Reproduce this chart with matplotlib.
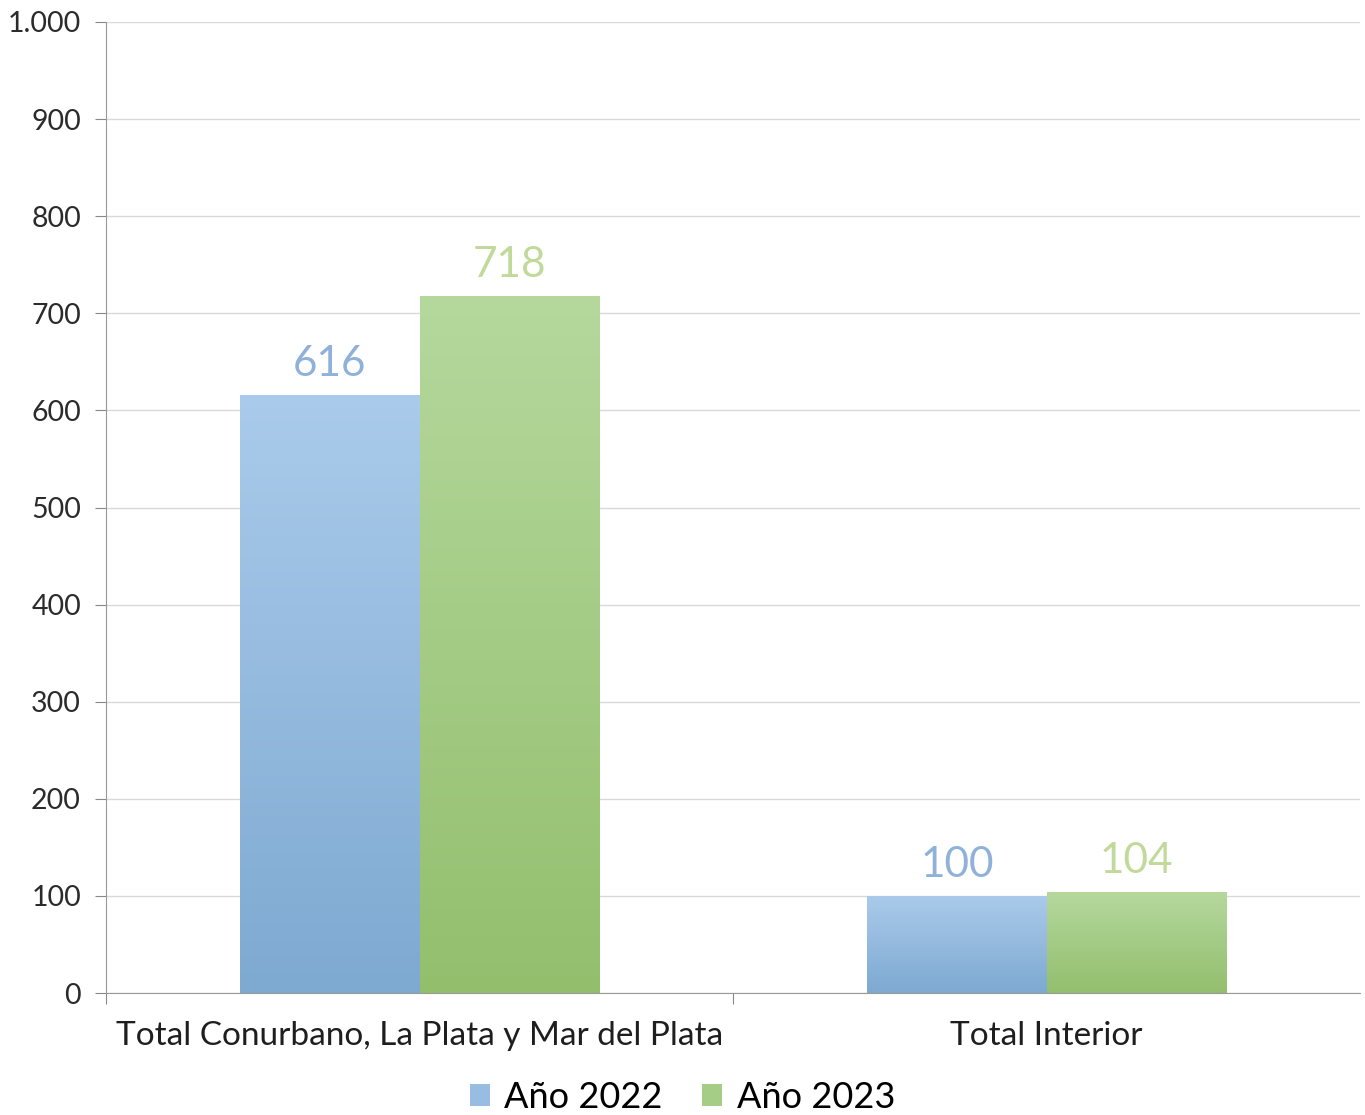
import numpy as np
import matplotlib
matplotlib.use('Agg')
import matplotlib.pyplot as plt
from matplotlib.colors import LinearSegmentedColormap
from matplotlib.patches import Patch

# data
categories = ['Total Conurbano, La Plata y Mar del Plata', 'Total Interior']
series = ['Año 2022', 'Año 2023']
values_2022 = [616, 100]
values_2023 = [718, 104]
yticks = [0, 100, 200, 300, 400, 500, 600, 700, 800, 900, 1000]
ytick_labels = ['0', '100', '200', '300', '400', '500', '600', '700', '800', '900', '1.000']

# colours (top, bottom) for the gradient fill
grad = {'Año 2022': ('#aacbeb', '#7ea9d1'), 'Año 2023': ('#b5d89d', '#93bf6d')}
legend_col = {'Año 2022': '#98bce2', 'Año 2023': '#a6cd86'}
label_col = {'Año 2022': '#8fb1da', 'Año 2023': '#c1d99b'}

plt.rcParams['font.family'] = ['Lato', 'DejaVu Sans']

fig = plt.figure(figsize=(13.65, 11.15), dpi=100)
ax = fig.add_axes([106/1365, 1 - 993/1115, 1254/1365, 971/1115])

x = np.arange(len(categories))
w = 0.2855
for k, (name, vals) in enumerate([(series[0], values_2022), (series[1], values_2023)]):
    offs = x + (k - 0.5) * w
    bars = ax.bar(offs, vals, w, color='none', edgecolor='none', zorder=2)
    cmap = LinearSegmentedColormap.from_list(name, [grad[name][1], grad[name][0]])
    for b, v in zip(bars, vals):
        x0 = b.get_x()
        im = ax.imshow(np.linspace(0, 1, 256).reshape(-1, 1), cmap=cmap, origin='lower',
                       extent=[x0, x0 + w, 0, v], aspect='auto', zorder=2)
        im.set_clip_path(b)
        ax.text(x0 + w / 2, v + 12, str(v), ha='center', va='bottom',
                fontsize=30.5, color=label_col[name])

ax.set_xlim(-0.5, 1.5)
ax.set_ylim(0, 1000)
ax.set_yticks(yticks)
ax.set_yticklabels(ytick_labels, fontsize=20.5, color='#2b2b2b')
ax.yaxis.grid(True, color='#d9d9d9', lw=1)
ax.set_axisbelow(True)
ax.tick_params(axis='y', length=8, color='#888888', pad=10)

ax.set_xticks([-0.5, 0.5])
ax.set_xticklabels([])
ax.set_xticks(x, minor=True)
ax.set_xticklabels(categories, minor=True, fontsize=24, color='#1e1e1e')
ax.tick_params(axis='x', which='major', length=8, color='#888888')
ax.tick_params(axis='x', which='minor', length=0, pad=20)

for s in ['top', 'right']:
    ax.spines[s].set_visible(False)
for s in ['left', 'bottom']:
    ax.spines[s].set_color('#999999')

handles = [Patch(facecolor=legend_col[s], edgecolor='none') for s in series]
fig.legend(handles, series, loc='center', bbox_to_anchor=(0.5, 1 - 1097/1115), ncol=2,
           frameon=False, fontsize=26, handlelength=0.55, handleheight=0.55,
           handletextpad=0.4, columnspacing=1.1)

fig.savefig('out.png', dpi=100)
